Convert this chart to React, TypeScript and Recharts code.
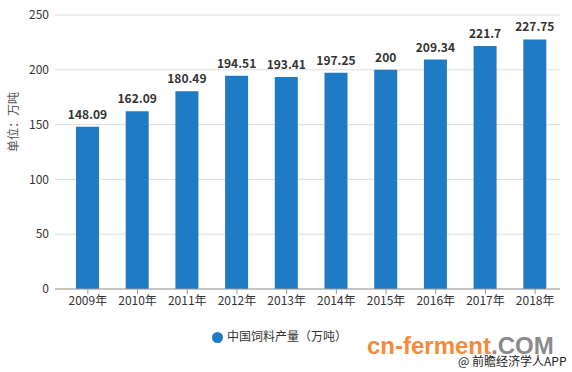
import { BarChart, Bar, XAxis, YAxis, CartesianGrid, LabelList, Legend } from 'recharts'

const years = ['2009年', '2010年', '2011年', '2012年', '2013年', '2014年', '2015年', '2016年', '2017年', '2018年']
const output = [148.09, 162.09, 180.49, 194.51, 193.41, 197.25, 200, 209.34, 221.7, 227.75]
const yTicks = [0, 50, 100, 150, 200, 250]
const seriesName = '中国饲料产量（万吨）'

const data = years.map((year, i) => ({ year, value: output[i] }))

const font = '"Microsoft YaHei", "Noto Sans CJK SC", "Noto Sans", sans-serif'

export default function App() {
  return (
    <div style={{ position: 'absolute', left: 0, top: 0, width: 572, height: 372, background: '#fff', fontFamily: font, overflow: 'hidden' }}>
      <BarChart
        width={572}
        height={372}
        data={data}
        margin={{ top: 15, right: 12, bottom: 36, left: 0 }}
      >
        <CartesianGrid vertical={false} stroke="#dddddd" />
        <XAxis
          dataKey="year"
          height={30}
          padding={{ left: 8, right: 0 }}
          tickLine={{ stroke: '#999' }}
          axisLine={{ stroke: '#999' }}
          tick={{ fill: '#333', fontSize: 12, fontFamily: font }}
          tickSize={5}
          interval={0}
        />
        <YAxis
          width={55}
          domain={[0, 250]}
          ticks={yTicks}
          axisLine={false}
          tickLine={false}
          tick={{ fill: '#333', fontSize: 12, fontFamily: font }}
          tickMargin={0}
          label={{ value: '单位：万吨', angle: -90, position: 'insideLeft', offset: 14, fill: '#555', fontSize: 12, style: { fontFamily: font } }}
        />
        <Legend
          verticalAlign="bottom"
          align="left"
          iconType="circle"
          iconSize={11}
          wrapperStyle={{ left: 212, bottom: 28, width: 'auto', fontSize: 12, fontFamily: font }}
          formatter={(v) => <span style={{ color: '#333' }}>{v}</span>}
        />
        <Bar dataKey="value" name={seriesName} fill="#1f7bc6" barSize={23} isAnimationActive={false}>
          <LabelList dataKey="value" position="top" offset={8} fill="#333" fontSize={12} fontWeight="bold" fontFamily={font} />
        </Bar>
      </BarChart>
      <div style={{ position: 'absolute', left: 367, top: 334, whiteSpace: 'nowrap', fontSize: 24, fontWeight: 'bold', fontFamily: '"Liberation Sans", Arial, sans-serif', lineHeight: '24px' }}>
        <span style={{ color: '#f58a3a' }}>cn-ferment</span>
        <span style={{ color: '#8a8a8a' }}>.COM</span>
      </div>
      <div style={{ position: 'absolute', left: 458, top: 354, whiteSpace: 'nowrap', fontSize: 12, color: '#222', fontFamily: font, lineHeight: '14px' }}>
        @ 前瞻经济学人APP
      </div>
    </div>
  )
}
